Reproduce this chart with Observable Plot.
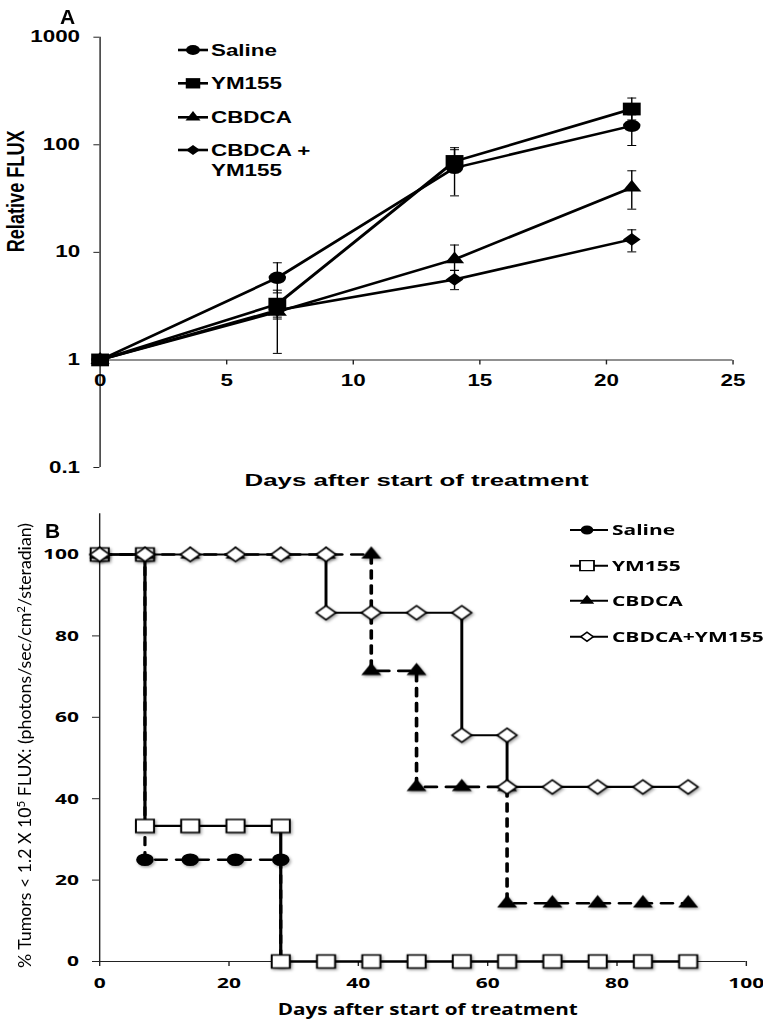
<!DOCTYPE html>
<html><head><meta charset="utf-8">
<script src="https://cdn.jsdelivr.net/npm/d3@7"></script>
<script src="https://cdn.jsdelivr.net/npm/@observablehq/plot@0.6"></script>
<style>
html,body{margin:0;padding:0;background:#fff;}
#fig{position:relative;width:763px;height:1019px;overflow:hidden;background:#fff;}
#fig > svg{position:absolute;left:0;}
</style></head><body><div id="fig"></div>
<script>
// ---------- Panel A data ----------
const daysA = [0, 7, 14, 21];
const seriesA = ["Saline", "YM155", "CBDCA", "CBDCA + YM155"];
const salineA = [1, 5.8, 61, 150];
const ym155A  = [1, 3.3, 70, 215];
const cbdcaA  = [1, 2.8, 8.6, 40];
const comboA  = [1, 2.9, 5.6, 13.2];
const salineLoA = [null, 4.2, 33.5, 98.5];
const salineHiA = [null, 8.0, 90, 190];
const ym155LoA  = [null, 2.4, 55, 170];
const ym155HiA  = [null, 4.45, 94, 272];
const cbdcaLoA  = [null, 1.15, 6.8, 25.2];
const cbdcaHiA  = [null, 3.6, 11.7, 57.3];
const comboLoA  = [null, 2.5, 4.5, 10.1];
const comboHiA  = [null, 3.3, 6.8, 16.2];
const xTicksA = [0, 5, 10, 15, 20, 25];
const yTicksA = [0.1, 1, 10, 100, 1000];
const yTickLabelsA = ["0.1", "1", "10", "100", "1000"];
const xTitleA = "Days after start of treatment";
const yTitleA = "Relative FLUX";

// ---------- Panel B data ----------
const seriesB = ["Saline", "YM155", "CBDCA", "CBDCA+YM155"];
const salineDaysB = [0, 7, 7, 14, 21, 28, 28];
const salineB     = [100, 100, 25, 25, 25, 25, 0];
const ym155DaysB  = [0, 7, 7, 14, 21, 28, 28, 35, 42, 49, 56, 63, 70, 77, 84, 91];
const ym155B      = [100, 100, 33.3, 33.3, 33.3, 33.3, 0, 0, 0, 0, 0, 0, 0, 0, 0, 0];
const cbdcaDaysB  = [0, 7, 14, 21, 28, 35, 42, 42, 49, 49, 56, 63, 63, 70, 77, 84, 91];
const cbdcaB      = [100, 100, 100, 100, 100, 100, 100, 71.4, 71.4, 42.9, 42.9, 42.9, 14.3, 14.3, 14.3, 14.3, 14.3];
const comboDaysB  = [0, 7, 14, 21, 28, 35, 35, 42, 49, 56, 56, 63, 63, 70, 77, 84, 91];
const comboB      = [100, 100, 100, 100, 100, 100, 85.7, 85.7, 85.7, 85.7, 55.6, 55.6, 42.9, 42.9, 42.9, 42.9, 42.9];
const xTicksB = [0, 20, 40, 60, 80, 100];
const yTicksB = [0, 20, 40, 60, 80, 100];
const xTitleB = "Days after start of treatment";

// ---------- layout ----------
const S = 1.4;           // horizontal stretch of the original figure
const W = 763 / S;
const fig = document.getElementById("fig");
const black = "#000";
const axisColor = "#222";

// ---------- Panel A ----------
const valsA = [salineA, ym155A, cbdcaA, comboA];
const losA = [salineLoA, ym155LoA, cbdcaLoA, comboLoA];
const hisA = [salineHiA, ym155HiA, cbdcaHiA, comboHiA];
const tableA = seriesA.flatMap((s, k) => daysA.map((d, i) => ({series: s, day: d, value: valsA[k][i], lo: losA[k][i], hi: hisA[k][i]})));
const errA = tableA.filter(d => d.lo != null);
const capsA = errA.flatMap(d => [{day: d.day, v: d.lo}, {day: d.day, v: d.hi}]);
const symA = ["circle", "square", "triangle", "diamond2"];
const rA = [6.2, 7.2, 5.1, 5.7];
const capSym = {draw(ctx) { ctx.moveTo(-3.2, 0); ctx.lineTo(3.2, 0); }};
const tickDown = {draw(ctx) { ctx.moveTo(0, 0); ctx.lineTo(0, 4.5); }};

const plotA = Plot.plot({
  width: W, height: 500,
  marginLeft: 71, marginRight: W - 523.1, marginTop: 36.7, marginBottom: 33,
  x: {domain: [0, 25], axis: null},
  y: {type: "log", domain: [0.1, 1000], axis: null},
  style: {fontFamily: "'Liberation Sans', Arial, sans-serif", fontSize: "16px", fontWeight: "bold", color: "#000", background: "transparent"},
  marks: [
    Plot.ruleX([0], {stroke: axisColor, strokeWidth: 1}),
    Plot.axisY({ticks: yTicksA, tickFormat: d => yTickLabelsA[yTicksA.indexOf(d)], tickSize: 4.3, tickPadding: 10, stroke: axisColor, label: null, fontSize: 16}),
    Plot.ruleY([1], {stroke: axisColor, strokeWidth: 1}),
    Plot.dot(xTicksA, {x: d => d, y: 1, symbol: tickDown, fill: "none", stroke: axisColor, strokeWidth: 1}),
    Plot.text(xTicksA, {x: d => d, y: 1, dy: 20.5, text: d => String(d), fontSize: 16}),
    Plot.text([xTitleA], {frameAnchor: "bottom", dy: 18, fontSize: 17}),
    Plot.text([yTitleA], {frameAnchor: "left", dx: -60, rotate: -90, fontSize: 17, fontWeight: "bold"}),
    Plot.line(tableA, {x: "day", y: "value", z: "series", stroke: black, strokeWidth: 2.5}),
    Plot.ruleX(errA, {x: "day", y1: "lo", y2: "hi", stroke: black, strokeWidth: 1}),
    Plot.dot(capsA, {x: "day", y: "v", symbol: capSym, fill: "none", stroke: black, strokeWidth: 1}),
    ...seriesA.map((s, k) => Plot.dot(tableA.filter(d => d.series === s), {x: "day", y: "value", symbol: symA[k], r: rA[k], fill: black, stroke: "none"}))
  ]
});
plotA.style.top = "0px";
plotA.style.transform = `scaleX(${S})`;
plotA.style.transformOrigin = "0 0";
fig.appendChild(plotA);

function fitText(svg, content, len) {
  d3.select(svg).selectAll("text").filter(function() { return this.textContent === content; })
    .attr("textLength", len).attr("lengthAdjust", "spacingAndGlyphs");
}
fitText(plotA, xTitleA, 344 / S);
fitText(plotA, yTitleA, 122);

function legend(svg, items, o) {
  const g = d3.select(svg).append("g");
  items.forEach((it, i) => {
    const y = o.ys[i];
    g.append("line").attr("x1", o.x1).attr("x2", o.x2).attr("y1", y).attr("y2", y)
      .attr("stroke", black).attr("stroke-width", o.lw);
    g.append("path").attr("transform", `translate(${o.xm},${y})`)
      .attr("d", d3.symbol(it.symbol, it.size)())
      .attr("fill", it.fill).attr("stroke", black).attr("stroke-width", it.sw);
    const t = g.append("text").attr("text-anchor", "start")
      .attr("font-family", o.font).attr("font-weight", "bold").attr("font-size", o.fs).attr("fill", black);
    it.label.forEach((line, j) => {
      t.append("tspan").attr("x", o.xt).attr("y", y + j * o.lh).attr("dy", "0.36em").text(line);
    });
  });
}
legend(plotA, [
  {label: ["Saline"], symbol: d3.symbolCircle, size: 78, fill: black, sw: 0},
  {label: ["YM155"], symbol: d3.symbolSquare, size: 107, fill: black, sw: 0},
  {label: ["CBDCA"], symbol: d3.symbolTriangle, size: 50, fill: black, sw: 0},
  {label: ["CBDCA +", "YM155"], symbol: d3.symbolDiamond2, size: 64, fill: black, sw: 0}
], {x1: 178 / S, x2: 208 / S, xm: 193 / S, xt: 211 / S, ys: [50, 83.3, 117.3, 150], lw: 2.6, lh: 20.3, fs: 16, font: "'Liberation Sans', Arial, sans-serif"});

// ---------- Panel B ----------
const daysB = [salineDaysB, ym155DaysB, cbdcaDaysB, comboDaysB];
const valsB = [salineB, ym155B, cbdcaB, comboB];
const tableB = seriesB.flatMap((s, k) => daysB[k].map((d, i) => ({series: s, day: d, value: valsB[k][i]})));
const ser = s => tableB.filter(d => d.series === s);
const lineStyleB = [
  {strokeWidth: 2.3, strokeDasharray: "8,7"},
  {strokeWidth: 2.3},
  {strokeWidth: 2.6, strokeDasharray: "8,7"},
  {strokeWidth: 2.1}
];
const symB = ["circle", "square", "triangle", "diamond2"];
const rB = [6.3, 7.3, 5.3, 6.3];
const fillB = [black, "#fff", black, "#fff"];

const plotB = Plot.plot({
  width: W, height: 519,
  marginLeft: 70.7, marginRight: W - 532.6, marginTop: 13.3, marginBottom: 58,
  x: {domain: [0, 100], axis: null},
  y: {domain: [0, 110], axis: null},
  style: {fontFamily: "'Open Sans', sans-serif", fontSize: "15px", fontWeight: "bold", color: "#000", background: "transparent"},
  marks: [
    Plot.axisY({ticks: yTicksB, tickSize: 5, tickPadding: 9.8, stroke: axisColor, label: null, fontSize: 15}),
    Plot.axisX({ticks: xTicksB, tickSize: 5, tickPadding: 11, stroke: axisColor, label: null, fontSize: 15}),
    Plot.ruleX([0], {stroke: axisColor, strokeWidth: 1}),
    Plot.ruleY([0], {stroke: axisColor, strokeWidth: 1}),
    Plot.text([xTitleB], {frameAnchor: "bottom", dx: 3.4, dy: 53, fontSize: 16}),
    ...seriesB.map((s, k) => Plot.line(ser(s), {x: "day", y: "value", stroke: black, ...lineStyleB[k]})),
    ...seriesB.map((s, k) => Plot.dot(ser(s), {x: "day", y: "value", symbol: symB[k], r: rB[k], fill: fillB[k], stroke: black, strokeWidth: fillB[k] === black ? 0 : 1.4}))
  ]
});
plotB.style.top = "500px";
plotB.style.transform = `scaleX(${S})`;
plotB.style.transformOrigin = "0 0";
fig.appendChild(plotB);
fitText(plotB, xTitleB, 300 / S);

// soft drop shadow under the panel B markers, as in the original
const defsB = d3.select(plotB).append("defs");
defsB.append("filter").attr("id", "mkshadow").attr("x", "-50%").attr("y", "-50%").attr("width", "200%").attr("height", "200%")
  .append("feDropShadow").attr("dx", 1).attr("dy", 1.5).attr("stdDeviation", 1).attr("flood-color", "#000").attr("flood-opacity", 0.35);
d3.select(plotB).selectAll('g[aria-label="dot"]').attr("filter", "url(#mkshadow)");

legend(plotB, [
  {label: ["Saline"], symbol: d3.symbolCircle, size: 64, fill: black, sw: 0},
  {label: ["YM155"], symbol: d3.symbolSquare, size: 100, fill: "#fff", sw: 1.3},
  {label: ["CBDCA"], symbol: d3.symbolTriangle, size: 46, fill: black, sw: 0},
  {label: ["CBDCA+YM155"], symbol: d3.symbolDiamond2, size: 52, fill: "#fff", sw: 1.3}
], {x1: 570 / S, x2: 608 / S, xm: 587 / S, xt: 612 / S, ys: [30, 65.7, 100.7, 136.7], lw: 2, lh: 0, fs: 15, font: "'Open Sans', sans-serif"});

// ---------- unstretched overlay: panel letters and B y title ----------
const ov = d3.select(fig).append("svg").attr("width", 763).attr("height", 1019)
  .style("top", "0px").style("pointer-events", "none");
ov.append("text").attr("x", 60).attr("y", 24).attr("font-family", "'Liberation Sans', Arial, sans-serif")
  .attr("font-weight", "bold").attr("font-size", 21).text("A");
ov.append("text").attr("x", 45).attr("y", 538.3).attr("font-family", "'Liberation Sans', Arial, sans-serif")
  .attr("font-weight", "bold").attr("font-size", 21).text("B");
const yl = ov.append("text").attr("transform", "translate(30.5,745.5) rotate(-90)")
  .attr("text-anchor", "middle").attr("font-family", "Lato, sans-serif").attr("font-size", 17)
  .attr("textLength", 445).attr("lengthAdjust", "spacingAndGlyphs");
yl.append("tspan").text("% Tumors < 1.2 X 10");
yl.append("tspan").attr("dy", -6).attr("font-size", 11).text("5");
yl.append("tspan").attr("dy", 6).text(" FLUX: (photons/sec/cm");
yl.append("tspan").attr("dy", -6).attr("font-size", 11).text("2");
yl.append("tspan").attr("dy", 6).text("/steradian)");
</script></body></html>
